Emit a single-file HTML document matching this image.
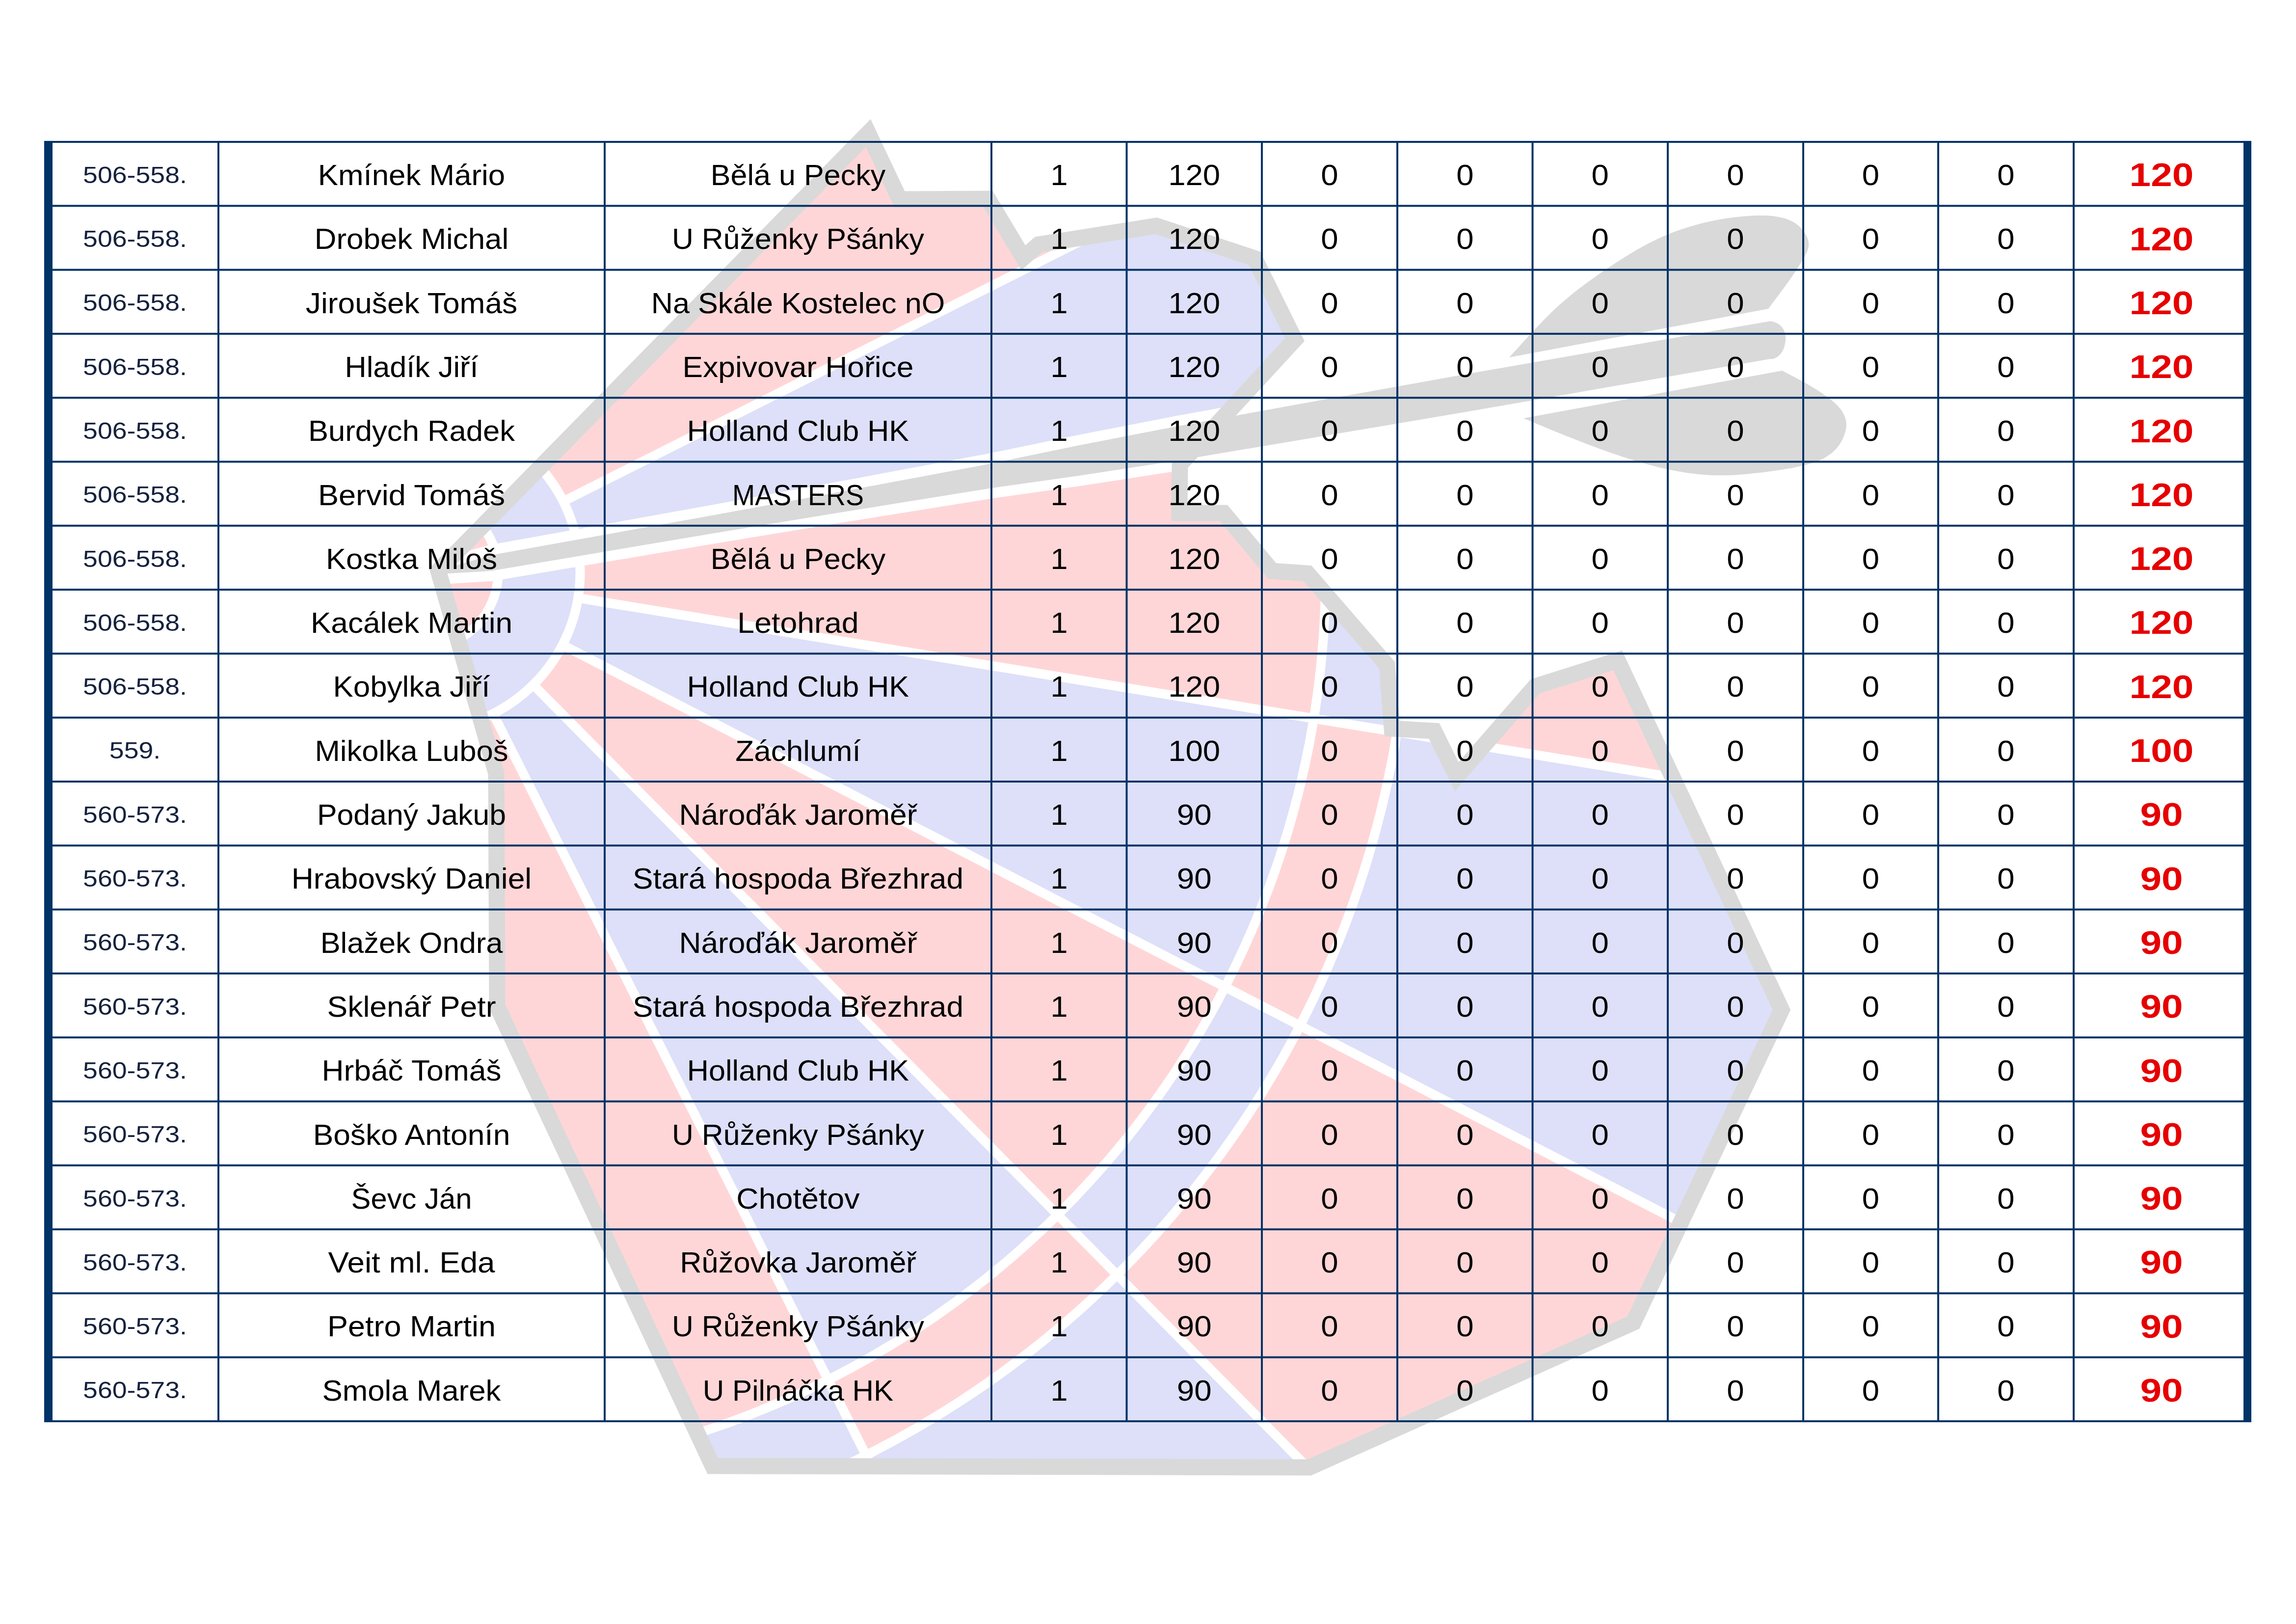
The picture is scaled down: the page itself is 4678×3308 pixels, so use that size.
<!DOCTYPE html><html><head><meta charset="utf-8"><style>html,body{margin:0;padding:0;background:#fff;overflow:hidden;}svg{display:block}text{font-family:"Liberation Sans",sans-serif;}</style></head><body>
<svg width="4678" height="3308" viewBox="0 0 4678 3308">
<rect width="4678" height="3308" fill="#fff"/>
<g><defs><clipPath id="cp"><polygon points="1769,271 1833,406 2013,405 2085,525 2116,498 2356,460 2556,526 2638,692 2404,946 2403,1045 2493,1045 2592,1163 2664,1168 2826,1355 2836,1484 2922,1489 2968,1582 3128,1398 3296,1345 3630,2057 3328,2694 2668,2989 1452,2986 1013,2050 1011,1575 893,1163"/></clipPath></defs><g clip-path="url(#cp)"><g transform="rotate(0.3,860,1166)"><path d="M860.0,1166.0L4020.6,665.4A3200,3200 0 0 1 4020.6,1666.6L860.0,1166.0Z" fill="#ffd6d7"/><path d="M2678.3,878.0L2848.2,851.1A2013,2013 0 0 1 2848.2,1480.9L2678.3,1454.0A1841,1841 0 0 0 2678.3,878.0Z" fill="#dde0f8"/><path d="M860.0,1166.0L4020.6,1666.6A3200,3200 0 0 1 3711.2,2618.8L860.0,1166.0Z" fill="#dde0f8"/><path d="M2678.3,1454.0L2848.2,1480.9A2013,2013 0 0 1 2653.6,2079.9L2500.3,2001.8A1841,1841 0 0 0 2678.3,1454.0Z" fill="#ffd6d7"/><path d="M860.0,1166.0L3711.2,2618.8A3200,3200 0 0 1 3122.7,3428.7L860.0,1166.0Z" fill="#ffd6d7"/><path d="M2500.3,2001.8L2653.6,2079.9A2013,2013 0 0 1 2283.4,2589.4L2161.8,2467.8A1841,1841 0 0 0 2500.3,2001.8Z" fill="#dde0f8"/><path d="M860.0,1166.0L3122.7,3428.7A3200,3200 0 0 1 2312.8,4017.2L860.0,1166.0Z" fill="#dde0f8"/><path d="M2161.8,2467.8L2283.4,2589.4A2013,2013 0 0 1 1773.9,2959.6L1695.8,2806.3A1841,1841 0 0 0 2161.8,2467.8Z" fill="#ffd6d7"/><path d="M860.0,1166.0L2312.8,4017.2A3200,3200 0 0 1 1360.6,4326.6L860.0,1166.0Z" fill="#ffd6d7"/><path d="M1695.8,2806.3L1773.9,2959.6A2013,2013 0 0 1 1174.9,3154.2L1148.0,2984.3A1841,1841 0 0 0 1695.8,2806.3Z" fill="#dde0f8"/><path d="M860.0,1166.0L1360.6,4326.6A3200,3200 0 0 1 359.4,4326.6L860.0,1166.0Z" fill="#dde0f8"/><path d="M1148.0,2984.3L1174.9,3154.2A2013,2013 0 0 1 545.1,3154.2L572.0,2984.3A1841,1841 0 0 0 1148.0,2984.3Z" fill="#ffd6d7"/><path d="M860.0,1166.0L359.4,4326.6A3200,3200 0 0 1 -592.8,4017.2L860.0,1166.0Z" fill="#ffd6d7"/><path d="M572.0,2984.3L545.1,3154.2A2013,2013 0 0 1 -53.9,2959.6L24.2,2806.3A1841,1841 0 0 0 572.0,2984.3Z" fill="#dde0f8"/><path d="M860.0,1166.0L-592.8,4017.2A3200,3200 0 0 1 -1402.7,3428.7L860.0,1166.0Z" fill="#dde0f8"/><path d="M24.2,2806.3L-53.9,2959.6A2013,2013 0 0 1 -563.4,2589.4L-441.8,2467.8A1841,1841 0 0 0 24.2,2806.3Z" fill="#ffd6d7"/><path d="M860.0,1166.0L-1402.7,3428.7A3200,3200 0 0 1 -1991.2,2618.8L860.0,1166.0Z" fill="#ffd6d7"/><path d="M-441.8,2467.8L-563.4,2589.4A2013,2013 0 0 1 -933.6,2079.9L-780.3,2001.8A1841,1841 0 0 0 -441.8,2467.8Z" fill="#dde0f8"/><path d="M860.0,1166.0L-1991.2,2618.8A3200,3200 0 0 1 -2300.6,1666.6L860.0,1166.0Z" fill="#dde0f8"/><path d="M-780.3,2001.8L-933.6,2079.9A2013,2013 0 0 1 -1128.2,1480.9L-958.3,1454.0A1841,1841 0 0 0 -780.3,2001.8Z" fill="#ffd6d7"/><path d="M860.0,1166.0L-2300.6,1666.6A3200,3200 0 0 1 -2300.6,665.4L860.0,1166.0Z" fill="#ffd6d7"/><path d="M-958.3,1454.0L-1128.2,1480.9A2013,2013 0 0 1 -1128.2,851.1L-958.3,878.0A1841,1841 0 0 0 -958.3,1454.0Z" fill="#dde0f8"/><path d="M860.0,1166.0L-2300.6,665.4A3200,3200 0 0 1 -1991.2,-286.8L860.0,1166.0Z" fill="#dde0f8"/><path d="M-958.3,878.0L-1128.2,851.1A2013,2013 0 0 1 -933.6,252.1L-780.3,330.2A1841,1841 0 0 0 -958.3,878.0Z" fill="#ffd6d7"/><path d="M860.0,1166.0L-1991.2,-286.8A3200,3200 0 0 1 -1402.7,-1096.7L860.0,1166.0Z" fill="#ffd6d7"/><path d="M-780.3,330.2L-933.6,252.1A2013,2013 0 0 1 -563.4,-257.4L-441.8,-135.8A1841,1841 0 0 0 -780.3,330.2Z" fill="#dde0f8"/><path d="M860.0,1166.0L-1402.7,-1096.7A3200,3200 0 0 1 -592.8,-1685.2L860.0,1166.0Z" fill="#dde0f8"/><path d="M-441.8,-135.8L-563.4,-257.4A2013,2013 0 0 1 -53.9,-627.6L24.2,-474.3A1841,1841 0 0 0 -441.8,-135.8Z" fill="#ffd6d7"/><path d="M860.0,1166.0L-592.8,-1685.2A3200,3200 0 0 1 359.4,-1994.6L860.0,1166.0Z" fill="#ffd6d7"/><path d="M24.2,-474.3L-53.9,-627.6A2013,2013 0 0 1 545.1,-822.2L572.0,-652.3A1841,1841 0 0 0 24.2,-474.3Z" fill="#dde0f8"/><path d="M860.0,1166.0L359.4,-1994.6A3200,3200 0 0 1 1360.6,-1994.6L860.0,1166.0Z" fill="#dde0f8"/><path d="M572.0,-652.3L545.1,-822.2A2013,2013 0 0 1 1174.9,-822.2L1148.0,-652.3A1841,1841 0 0 0 572.0,-652.3Z" fill="#ffd6d7"/><path d="M860.0,1166.0L1360.6,-1994.6A3200,3200 0 0 1 2312.8,-1685.2L860.0,1166.0Z" fill="#ffd6d7"/><path d="M1148.0,-652.3L1174.9,-822.2A2013,2013 0 0 1 1773.9,-627.6L1695.8,-474.3A1841,1841 0 0 0 1148.0,-652.3Z" fill="#dde0f8"/><path d="M860.0,1166.0L2312.8,-1685.2A3200,3200 0 0 1 3122.7,-1096.7L860.0,1166.0Z" fill="#dde0f8"/><path d="M1695.8,-474.3L1773.9,-627.6A2013,2013 0 0 1 2283.4,-257.4L2161.8,-135.8A1841,1841 0 0 0 1695.8,-474.3Z" fill="#ffd6d7"/><path d="M860.0,1166.0L3122.7,-1096.7A3200,3200 0 0 1 3711.2,-286.8L860.0,1166.0Z" fill="#ffd6d7"/><path d="M2161.8,-135.8L2283.4,-257.4A2013,2013 0 0 1 2653.6,252.1L2500.3,330.2A1841,1841 0 0 0 2161.8,-135.8Z" fill="#dde0f8"/><path d="M860.0,1166.0L3711.2,-286.8A3200,3200 0 0 1 4020.6,665.4L860.0,1166.0Z" fill="#dde0f8"/><path d="M2500.3,330.2L2653.6,252.1A2013,2013 0 0 1 2848.2,851.1L2678.3,878.0A1841,1841 0 0 0 2500.3,330.2Z" fill="#ffd6d7"/><circle cx="860" cy="1166" r="322" fill="#dde0f8"/><circle cx="860" cy="1166" r="155" fill="#ffd6d7"/><path d="M1178.0,1115.6L4020.6,665.4M1178.0,1216.4L4020.6,1666.6M1146.9,1312.2L3711.2,2618.8M1087.7,1393.7L3122.7,3428.7M1006.2,1452.9L2312.8,4017.2M910.4,1484.0L1360.6,4326.6M809.6,1484.0L359.4,4326.6M713.8,1452.9L-592.8,4017.2M632.3,1393.7L-1402.7,3428.7M573.1,1312.2L-1991.2,2618.8M542.0,1216.4L-2300.6,1666.6M542.0,1115.6L-2300.6,665.4M573.1,1019.8L-1991.2,-286.8M632.3,938.3L-1402.7,-1096.7M713.8,879.1L-592.8,-1685.2M809.6,848.0L359.4,-1994.6M910.4,848.0L1360.6,-1994.6M1006.2,879.1L2312.8,-1685.2M1087.7,938.3L3122.7,-1096.7M1146.9,1019.8L3711.2,-286.8" stroke="#fff" stroke-width="19" fill="none"/><circle cx="860" cy="1166" r="1841" stroke="#fff" stroke-width="19" fill="none"/><circle cx="860" cy="1166" r="2013" stroke="#fff" stroke-width="19" fill="none"/><circle cx="860" cy="1166" r="322" stroke="#fff" stroke-width="19" fill="none"/><circle cx="860" cy="1166" r="155" stroke="#fff" stroke-width="19" fill="none"/></g><path d="M886.0,1163.8 L1000.0,1130.9 L1450.0,1050.0 L1711.0,1002.0 L2017.0,944.7 L2200.0,906.8 L2400.0,867.9 L2700.0,813.6 L3000.0,759.8 L3606.0,654.2 C3628,656.2 3640,672.7 3638,692.7 C3636,714.7 3626,727.2 3612,731.2 L3606.0,731.2 L3000.0,836.8 L2700.0,887.6 L2400.0,937.9 L2200.0,968.8 L2017.0,994.7 L1711.0,1044.0 L1450.0,1087.0 L1000.0,1162.9 L886.0,1169.8Z" fill="#fff" stroke="#fff" stroke-width="42" stroke-linejoin="round"/></g><polygon points="1769,271 1833,406 2013,405 2085,525 2116,498 2356,460 2556,526 2638,692 2404,946 2403,1045 2493,1045 2592,1163 2664,1168 2826,1355 2836,1484 2922,1489 2968,1582 3128,1398 3296,1345 3630,2057 3328,2694 2668,2989 1452,2986 1013,2050 1011,1575 893,1163" fill="none" stroke="#d9d9d9" stroke-width="33" stroke-linejoin="miter" stroke-miterlimit="10"/><path d="M886.0,1163.8 L1000.0,1130.9 L1450.0,1050.0 L1711.0,1002.0 L2017.0,944.7 L2200.0,906.8 L2400.0,867.9 L2700.0,813.6 L3000.0,759.8 L3606.0,654.2 C3628,656.2 3640,672.7 3638,692.7 C3636,714.7 3626,727.2 3612,731.2 L3606.0,731.2 L3000.0,836.8 L2700.0,887.6 L2400.0,937.9 L2200.0,968.8 L2017.0,994.7 L1711.0,1044.0 L1450.0,1087.0 L1000.0,1162.9 L886.0,1169.8Z" fill="#d9d9d9"/><path d="M3075,728 L3603,629 C3612.8,615.3 3648.3,569.3 3662.0,547.0C3675.7,524.7 3686.2,510.7 3685.0,495.0C3683.8,479.3 3670.5,462.3 3655.0,453.0C3639.5,443.7 3619.8,439.5 3592.0,439.0C3564.2,438.5 3522.8,442.5 3488.0,450.0C3453.2,457.5 3417.8,468.3 3383.0,484.0C3348.2,499.7 3313.8,520.7 3279.0,544.0C3244.2,567.3 3208.0,593.3 3174.0,624.0C3140.0,654.7 3091.5,710.7 3075.0,728.0Z" fill="#d9d9d9"/><path d="M3104,852 L3631,755 C3642.0,761.0 3677.3,778.2 3697.0,791.0C3716.7,803.8 3738.3,818.2 3749.0,832.0C3759.7,845.8 3763.8,858.8 3761.0,874.0C3758.2,889.2 3748.5,910.2 3732.0,923.0C3715.5,935.8 3696.8,943.5 3662.0,951.0C3627.2,958.5 3563.7,966.5 3523.0,968.0C3482.3,969.5 3452.8,965.8 3418.0,960.0C3383.2,954.2 3348.8,943.8 3314.0,933.0C3279.2,922.2 3244.0,908.5 3209.0,895.0C3174.0,881.5 3121.5,859.2 3104.0,852.0Z" fill="#d9d9d9"/></g>
<g fill="#003366"><rect x="90" y="287.0" width="4497" height="4"/><rect x="90" y="417.3" width="4497" height="4"/><rect x="90" y="547.6" width="4497" height="4"/><rect x="90" y="677.9" width="4497" height="4"/><rect x="90" y="808.2" width="4497" height="4"/><rect x="90" y="938.5" width="4497" height="4"/><rect x="90" y="1068.8" width="4497" height="4"/><rect x="90" y="1199.1" width="4497" height="4"/><rect x="90" y="1329.4" width="4497" height="4"/><rect x="90" y="1459.7" width="4497" height="4"/><rect x="90" y="1590.0" width="4497" height="4"/><rect x="90" y="1720.3" width="4497" height="4"/><rect x="90" y="1850.6" width="4497" height="4"/><rect x="90" y="1980.9" width="4497" height="4"/><rect x="90" y="2111.2" width="4497" height="4"/><rect x="90" y="2241.5" width="4497" height="4"/><rect x="90" y="2371.8" width="4497" height="4"/><rect x="90" y="2502.1" width="4497" height="4"/><rect x="90" y="2632.4" width="4497" height="4"/><rect x="90" y="2762.7" width="4497" height="4"/><rect x="90" y="2893.0" width="4497" height="4"/><rect x="443" y="287" width="4" height="2610.0"/><rect x="1230" y="287" width="4" height="2610.0"/><rect x="2018" y="287" width="4" height="2610.0"/><rect x="2293.5" y="287" width="4" height="2610.0"/><rect x="2569" y="287" width="4" height="2610.0"/><rect x="2845" y="287" width="4" height="2610.0"/><rect x="3120.5" y="287" width="4" height="2610.0"/><rect x="3396" y="287" width="4" height="2610.0"/><rect x="3672" y="287" width="4" height="2610.0"/><rect x="3947" y="287" width="4" height="2610.0"/><rect x="4223" y="287" width="4" height="2610.0"/><rect x="90" y="287" width="17" height="2610.0"/><rect x="4571" y="287" width="16" height="2610.0"/></g>
<g><text x="275.0" y="372.7" font-size="48.4" fill="#14213d" text-anchor="middle" textLength="211.8" lengthAdjust="spacingAndGlyphs">506-558.</text><text x="838.5" y="377.0" font-size="60.0" fill="#000" text-anchor="middle" textLength="381.4" lengthAdjust="spacingAndGlyphs">Kmínek Mário</text><text x="1626.0" y="377.0" font-size="60.0" fill="#000" text-anchor="middle" textLength="356.5" lengthAdjust="spacingAndGlyphs">Bělá u Pecky</text><text x="2157.8" y="377.0" font-size="60.0" fill="#000" text-anchor="middle" textLength="35.3" lengthAdjust="spacingAndGlyphs">1</text><text x="2433.2" y="377.0" font-size="60.0" fill="#000" text-anchor="middle" textLength="106.0" lengthAdjust="spacingAndGlyphs">120</text><text x="2709.0" y="377.0" font-size="60.0" fill="#000" text-anchor="middle" textLength="35.3" lengthAdjust="spacingAndGlyphs">0</text><text x="2984.8" y="377.0" font-size="60.0" fill="#000" text-anchor="middle" textLength="35.3" lengthAdjust="spacingAndGlyphs">0</text><text x="3260.2" y="377.0" font-size="60.0" fill="#000" text-anchor="middle" textLength="35.3" lengthAdjust="spacingAndGlyphs">0</text><text x="3536.0" y="377.0" font-size="60.0" fill="#000" text-anchor="middle" textLength="35.3" lengthAdjust="spacingAndGlyphs">0</text><text x="3811.5" y="377.0" font-size="60.0" fill="#000" text-anchor="middle" textLength="35.3" lengthAdjust="spacingAndGlyphs">0</text><text x="4087.0" y="377.0" font-size="60.0" fill="#000" text-anchor="middle" textLength="35.3" lengthAdjust="spacingAndGlyphs">0</text><text x="4404.0" y="379.3" font-size="66.7" font-weight="bold" fill="#e60000" text-anchor="middle" textLength="130.8" lengthAdjust="spacingAndGlyphs">120</text><text x="275.0" y="503.0" font-size="48.4" fill="#14213d" text-anchor="middle" textLength="211.8" lengthAdjust="spacingAndGlyphs">506-558.</text><text x="838.5" y="507.3" font-size="60.0" fill="#000" text-anchor="middle" textLength="395.4" lengthAdjust="spacingAndGlyphs">Drobek Michal</text><text x="1626.0" y="507.3" font-size="60.0" fill="#000" text-anchor="middle" textLength="514.0" lengthAdjust="spacingAndGlyphs">U Růženky Pšánky</text><text x="2157.8" y="507.3" font-size="60.0" fill="#000" text-anchor="middle" textLength="35.3" lengthAdjust="spacingAndGlyphs">1</text><text x="2433.2" y="507.3" font-size="60.0" fill="#000" text-anchor="middle" textLength="106.0" lengthAdjust="spacingAndGlyphs">120</text><text x="2709.0" y="507.3" font-size="60.0" fill="#000" text-anchor="middle" textLength="35.3" lengthAdjust="spacingAndGlyphs">0</text><text x="2984.8" y="507.3" font-size="60.0" fill="#000" text-anchor="middle" textLength="35.3" lengthAdjust="spacingAndGlyphs">0</text><text x="3260.2" y="507.3" font-size="60.0" fill="#000" text-anchor="middle" textLength="35.3" lengthAdjust="spacingAndGlyphs">0</text><text x="3536.0" y="507.3" font-size="60.0" fill="#000" text-anchor="middle" textLength="35.3" lengthAdjust="spacingAndGlyphs">0</text><text x="3811.5" y="507.3" font-size="60.0" fill="#000" text-anchor="middle" textLength="35.3" lengthAdjust="spacingAndGlyphs">0</text><text x="4087.0" y="507.3" font-size="60.0" fill="#000" text-anchor="middle" textLength="35.3" lengthAdjust="spacingAndGlyphs">0</text><text x="4404.0" y="509.6" font-size="66.7" font-weight="bold" fill="#e60000" text-anchor="middle" textLength="130.8" lengthAdjust="spacingAndGlyphs">120</text><text x="275.0" y="633.3" font-size="48.4" fill="#14213d" text-anchor="middle" textLength="211.8" lengthAdjust="spacingAndGlyphs">506-558.</text><text x="838.5" y="637.6" font-size="60.0" fill="#000" text-anchor="middle" textLength="431.3" lengthAdjust="spacingAndGlyphs">Jiroušek Tomáš</text><text x="1626.0" y="637.6" font-size="60.0" fill="#000" text-anchor="middle" textLength="598.5" lengthAdjust="spacingAndGlyphs">Na Skále Kostelec nO</text><text x="2157.8" y="637.6" font-size="60.0" fill="#000" text-anchor="middle" textLength="35.3" lengthAdjust="spacingAndGlyphs">1</text><text x="2433.2" y="637.6" font-size="60.0" fill="#000" text-anchor="middle" textLength="106.0" lengthAdjust="spacingAndGlyphs">120</text><text x="2709.0" y="637.6" font-size="60.0" fill="#000" text-anchor="middle" textLength="35.3" lengthAdjust="spacingAndGlyphs">0</text><text x="2984.8" y="637.6" font-size="60.0" fill="#000" text-anchor="middle" textLength="35.3" lengthAdjust="spacingAndGlyphs">0</text><text x="3260.2" y="637.6" font-size="60.0" fill="#000" text-anchor="middle" textLength="35.3" lengthAdjust="spacingAndGlyphs">0</text><text x="3536.0" y="637.6" font-size="60.0" fill="#000" text-anchor="middle" textLength="35.3" lengthAdjust="spacingAndGlyphs">0</text><text x="3811.5" y="637.6" font-size="60.0" fill="#000" text-anchor="middle" textLength="35.3" lengthAdjust="spacingAndGlyphs">0</text><text x="4087.0" y="637.6" font-size="60.0" fill="#000" text-anchor="middle" textLength="35.3" lengthAdjust="spacingAndGlyphs">0</text><text x="4404.0" y="639.9" font-size="66.7" font-weight="bold" fill="#e60000" text-anchor="middle" textLength="130.8" lengthAdjust="spacingAndGlyphs">120</text><text x="275.0" y="763.6" font-size="48.4" fill="#14213d" text-anchor="middle" textLength="211.8" lengthAdjust="spacingAndGlyphs">506-558.</text><text x="838.5" y="767.9" font-size="60.0" fill="#000" text-anchor="middle" textLength="272.0" lengthAdjust="spacingAndGlyphs">Hladík Jiří</text><text x="1626.0" y="767.9" font-size="60.0" fill="#000" text-anchor="middle" textLength="470.8" lengthAdjust="spacingAndGlyphs">Expivovar Hořice</text><text x="2157.8" y="767.9" font-size="60.0" fill="#000" text-anchor="middle" textLength="35.3" lengthAdjust="spacingAndGlyphs">1</text><text x="2433.2" y="767.9" font-size="60.0" fill="#000" text-anchor="middle" textLength="106.0" lengthAdjust="spacingAndGlyphs">120</text><text x="2709.0" y="767.9" font-size="60.0" fill="#000" text-anchor="middle" textLength="35.3" lengthAdjust="spacingAndGlyphs">0</text><text x="2984.8" y="767.9" font-size="60.0" fill="#000" text-anchor="middle" textLength="35.3" lengthAdjust="spacingAndGlyphs">0</text><text x="3260.2" y="767.9" font-size="60.0" fill="#000" text-anchor="middle" textLength="35.3" lengthAdjust="spacingAndGlyphs">0</text><text x="3536.0" y="767.9" font-size="60.0" fill="#000" text-anchor="middle" textLength="35.3" lengthAdjust="spacingAndGlyphs">0</text><text x="3811.5" y="767.9" font-size="60.0" fill="#000" text-anchor="middle" textLength="35.3" lengthAdjust="spacingAndGlyphs">0</text><text x="4087.0" y="767.9" font-size="60.0" fill="#000" text-anchor="middle" textLength="35.3" lengthAdjust="spacingAndGlyphs">0</text><text x="4404.0" y="770.2" font-size="66.7" font-weight="bold" fill="#e60000" text-anchor="middle" textLength="130.8" lengthAdjust="spacingAndGlyphs">120</text><text x="275.0" y="893.9" font-size="48.4" fill="#14213d" text-anchor="middle" textLength="211.8" lengthAdjust="spacingAndGlyphs">506-558.</text><text x="838.5" y="898.2" font-size="60.0" fill="#000" text-anchor="middle" textLength="421.0" lengthAdjust="spacingAndGlyphs">Burdych Radek</text><text x="1626.0" y="898.2" font-size="60.0" fill="#000" text-anchor="middle" textLength="452.4" lengthAdjust="spacingAndGlyphs">Holland Club HK</text><text x="2157.8" y="898.2" font-size="60.0" fill="#000" text-anchor="middle" textLength="35.3" lengthAdjust="spacingAndGlyphs">1</text><text x="2433.2" y="898.2" font-size="60.0" fill="#000" text-anchor="middle" textLength="106.0" lengthAdjust="spacingAndGlyphs">120</text><text x="2709.0" y="898.2" font-size="60.0" fill="#000" text-anchor="middle" textLength="35.3" lengthAdjust="spacingAndGlyphs">0</text><text x="2984.8" y="898.2" font-size="60.0" fill="#000" text-anchor="middle" textLength="35.3" lengthAdjust="spacingAndGlyphs">0</text><text x="3260.2" y="898.2" font-size="60.0" fill="#000" text-anchor="middle" textLength="35.3" lengthAdjust="spacingAndGlyphs">0</text><text x="3536.0" y="898.2" font-size="60.0" fill="#000" text-anchor="middle" textLength="35.3" lengthAdjust="spacingAndGlyphs">0</text><text x="3811.5" y="898.2" font-size="60.0" fill="#000" text-anchor="middle" textLength="35.3" lengthAdjust="spacingAndGlyphs">0</text><text x="4087.0" y="898.2" font-size="60.0" fill="#000" text-anchor="middle" textLength="35.3" lengthAdjust="spacingAndGlyphs">0</text><text x="4404.0" y="900.5" font-size="66.7" font-weight="bold" fill="#e60000" text-anchor="middle" textLength="130.8" lengthAdjust="spacingAndGlyphs">120</text><text x="275.0" y="1024.2" font-size="48.4" fill="#14213d" text-anchor="middle" textLength="211.8" lengthAdjust="spacingAndGlyphs">506-558.</text><text x="838.5" y="1028.5" font-size="60.0" fill="#000" text-anchor="middle" textLength="381.2" lengthAdjust="spacingAndGlyphs">Bervid Tomáš</text><text x="1626.0" y="1028.5" font-size="60.0" fill="#000" text-anchor="middle" textLength="268.1" lengthAdjust="spacingAndGlyphs">MASTERS</text><text x="2157.8" y="1028.5" font-size="60.0" fill="#000" text-anchor="middle" textLength="35.3" lengthAdjust="spacingAndGlyphs">1</text><text x="2433.2" y="1028.5" font-size="60.0" fill="#000" text-anchor="middle" textLength="106.0" lengthAdjust="spacingAndGlyphs">120</text><text x="2709.0" y="1028.5" font-size="60.0" fill="#000" text-anchor="middle" textLength="35.3" lengthAdjust="spacingAndGlyphs">0</text><text x="2984.8" y="1028.5" font-size="60.0" fill="#000" text-anchor="middle" textLength="35.3" lengthAdjust="spacingAndGlyphs">0</text><text x="3260.2" y="1028.5" font-size="60.0" fill="#000" text-anchor="middle" textLength="35.3" lengthAdjust="spacingAndGlyphs">0</text><text x="3536.0" y="1028.5" font-size="60.0" fill="#000" text-anchor="middle" textLength="35.3" lengthAdjust="spacingAndGlyphs">0</text><text x="3811.5" y="1028.5" font-size="60.0" fill="#000" text-anchor="middle" textLength="35.3" lengthAdjust="spacingAndGlyphs">0</text><text x="4087.0" y="1028.5" font-size="60.0" fill="#000" text-anchor="middle" textLength="35.3" lengthAdjust="spacingAndGlyphs">0</text><text x="4404.0" y="1030.8" font-size="66.7" font-weight="bold" fill="#e60000" text-anchor="middle" textLength="130.8" lengthAdjust="spacingAndGlyphs">120</text><text x="275.0" y="1154.5" font-size="48.4" fill="#14213d" text-anchor="middle" textLength="211.8" lengthAdjust="spacingAndGlyphs">506-558.</text><text x="838.5" y="1158.8" font-size="60.0" fill="#000" text-anchor="middle" textLength="348.9" lengthAdjust="spacingAndGlyphs">Kostka Miloš</text><text x="1626.0" y="1158.8" font-size="60.0" fill="#000" text-anchor="middle" textLength="356.5" lengthAdjust="spacingAndGlyphs">Bělá u Pecky</text><text x="2157.8" y="1158.8" font-size="60.0" fill="#000" text-anchor="middle" textLength="35.3" lengthAdjust="spacingAndGlyphs">1</text><text x="2433.2" y="1158.8" font-size="60.0" fill="#000" text-anchor="middle" textLength="106.0" lengthAdjust="spacingAndGlyphs">120</text><text x="2709.0" y="1158.8" font-size="60.0" fill="#000" text-anchor="middle" textLength="35.3" lengthAdjust="spacingAndGlyphs">0</text><text x="2984.8" y="1158.8" font-size="60.0" fill="#000" text-anchor="middle" textLength="35.3" lengthAdjust="spacingAndGlyphs">0</text><text x="3260.2" y="1158.8" font-size="60.0" fill="#000" text-anchor="middle" textLength="35.3" lengthAdjust="spacingAndGlyphs">0</text><text x="3536.0" y="1158.8" font-size="60.0" fill="#000" text-anchor="middle" textLength="35.3" lengthAdjust="spacingAndGlyphs">0</text><text x="3811.5" y="1158.8" font-size="60.0" fill="#000" text-anchor="middle" textLength="35.3" lengthAdjust="spacingAndGlyphs">0</text><text x="4087.0" y="1158.8" font-size="60.0" fill="#000" text-anchor="middle" textLength="35.3" lengthAdjust="spacingAndGlyphs">0</text><text x="4404.0" y="1161.1" font-size="66.7" font-weight="bold" fill="#e60000" text-anchor="middle" textLength="130.8" lengthAdjust="spacingAndGlyphs">120</text><text x="275.0" y="1284.8" font-size="48.4" fill="#14213d" text-anchor="middle" textLength="211.8" lengthAdjust="spacingAndGlyphs">506-558.</text><text x="838.5" y="1289.1" font-size="60.0" fill="#000" text-anchor="middle" textLength="411.2" lengthAdjust="spacingAndGlyphs">Kacálek Martin</text><text x="1626.0" y="1289.1" font-size="60.0" fill="#000" text-anchor="middle" textLength="247.3" lengthAdjust="spacingAndGlyphs">Letohrad</text><text x="2157.8" y="1289.1" font-size="60.0" fill="#000" text-anchor="middle" textLength="35.3" lengthAdjust="spacingAndGlyphs">1</text><text x="2433.2" y="1289.1" font-size="60.0" fill="#000" text-anchor="middle" textLength="106.0" lengthAdjust="spacingAndGlyphs">120</text><text x="2709.0" y="1289.1" font-size="60.0" fill="#000" text-anchor="middle" textLength="35.3" lengthAdjust="spacingAndGlyphs">0</text><text x="2984.8" y="1289.1" font-size="60.0" fill="#000" text-anchor="middle" textLength="35.3" lengthAdjust="spacingAndGlyphs">0</text><text x="3260.2" y="1289.1" font-size="60.0" fill="#000" text-anchor="middle" textLength="35.3" lengthAdjust="spacingAndGlyphs">0</text><text x="3536.0" y="1289.1" font-size="60.0" fill="#000" text-anchor="middle" textLength="35.3" lengthAdjust="spacingAndGlyphs">0</text><text x="3811.5" y="1289.1" font-size="60.0" fill="#000" text-anchor="middle" textLength="35.3" lengthAdjust="spacingAndGlyphs">0</text><text x="4087.0" y="1289.1" font-size="60.0" fill="#000" text-anchor="middle" textLength="35.3" lengthAdjust="spacingAndGlyphs">0</text><text x="4404.0" y="1291.4" font-size="66.7" font-weight="bold" fill="#e60000" text-anchor="middle" textLength="130.8" lengthAdjust="spacingAndGlyphs">120</text><text x="275.0" y="1415.1" font-size="48.4" fill="#14213d" text-anchor="middle" textLength="211.8" lengthAdjust="spacingAndGlyphs">506-558.</text><text x="838.5" y="1419.4" font-size="60.0" fill="#000" text-anchor="middle" textLength="319.9" lengthAdjust="spacingAndGlyphs">Kobylka Jiří</text><text x="1626.0" y="1419.4" font-size="60.0" fill="#000" text-anchor="middle" textLength="452.4" lengthAdjust="spacingAndGlyphs">Holland Club HK</text><text x="2157.8" y="1419.4" font-size="60.0" fill="#000" text-anchor="middle" textLength="35.3" lengthAdjust="spacingAndGlyphs">1</text><text x="2433.2" y="1419.4" font-size="60.0" fill="#000" text-anchor="middle" textLength="106.0" lengthAdjust="spacingAndGlyphs">120</text><text x="2709.0" y="1419.4" font-size="60.0" fill="#000" text-anchor="middle" textLength="35.3" lengthAdjust="spacingAndGlyphs">0</text><text x="2984.8" y="1419.4" font-size="60.0" fill="#000" text-anchor="middle" textLength="35.3" lengthAdjust="spacingAndGlyphs">0</text><text x="3260.2" y="1419.4" font-size="60.0" fill="#000" text-anchor="middle" textLength="35.3" lengthAdjust="spacingAndGlyphs">0</text><text x="3536.0" y="1419.4" font-size="60.0" fill="#000" text-anchor="middle" textLength="35.3" lengthAdjust="spacingAndGlyphs">0</text><text x="3811.5" y="1419.4" font-size="60.0" fill="#000" text-anchor="middle" textLength="35.3" lengthAdjust="spacingAndGlyphs">0</text><text x="4087.0" y="1419.4" font-size="60.0" fill="#000" text-anchor="middle" textLength="35.3" lengthAdjust="spacingAndGlyphs">0</text><text x="4404.0" y="1421.7" font-size="66.7" font-weight="bold" fill="#e60000" text-anchor="middle" textLength="130.8" lengthAdjust="spacingAndGlyphs">120</text><text x="275.0" y="1545.4" font-size="48.4" fill="#14213d" text-anchor="middle" textLength="104.4" lengthAdjust="spacingAndGlyphs">559.</text><text x="838.5" y="1549.7" font-size="60.0" fill="#000" text-anchor="middle" textLength="394.1" lengthAdjust="spacingAndGlyphs">Mikolka Luboš</text><text x="1626.0" y="1549.7" font-size="60.0" fill="#000" text-anchor="middle" textLength="255.3" lengthAdjust="spacingAndGlyphs">Záchlumí</text><text x="2157.8" y="1549.7" font-size="60.0" fill="#000" text-anchor="middle" textLength="35.3" lengthAdjust="spacingAndGlyphs">1</text><text x="2433.2" y="1549.7" font-size="60.0" fill="#000" text-anchor="middle" textLength="106.0" lengthAdjust="spacingAndGlyphs">100</text><text x="2709.0" y="1549.7" font-size="60.0" fill="#000" text-anchor="middle" textLength="35.3" lengthAdjust="spacingAndGlyphs">0</text><text x="2984.8" y="1549.7" font-size="60.0" fill="#000" text-anchor="middle" textLength="35.3" lengthAdjust="spacingAndGlyphs">0</text><text x="3260.2" y="1549.7" font-size="60.0" fill="#000" text-anchor="middle" textLength="35.3" lengthAdjust="spacingAndGlyphs">0</text><text x="3536.0" y="1549.7" font-size="60.0" fill="#000" text-anchor="middle" textLength="35.3" lengthAdjust="spacingAndGlyphs">0</text><text x="3811.5" y="1549.7" font-size="60.0" fill="#000" text-anchor="middle" textLength="35.3" lengthAdjust="spacingAndGlyphs">0</text><text x="4087.0" y="1549.7" font-size="60.0" fill="#000" text-anchor="middle" textLength="35.3" lengthAdjust="spacingAndGlyphs">0</text><text x="4404.0" y="1552.0" font-size="66.7" font-weight="bold" fill="#e60000" text-anchor="middle" textLength="130.8" lengthAdjust="spacingAndGlyphs">100</text><text x="275.0" y="1675.7" font-size="48.4" fill="#14213d" text-anchor="middle" textLength="211.8" lengthAdjust="spacingAndGlyphs">560-573.</text><text x="838.5" y="1680.0" font-size="60.0" fill="#000" text-anchor="middle" textLength="384.9" lengthAdjust="spacingAndGlyphs">Podaný Jakub</text><text x="1626.0" y="1680.0" font-size="60.0" fill="#000" text-anchor="middle" textLength="485.1" lengthAdjust="spacingAndGlyphs">Nároďák Jaroměř</text><text x="2157.8" y="1680.0" font-size="60.0" fill="#000" text-anchor="middle" textLength="35.3" lengthAdjust="spacingAndGlyphs">1</text><text x="2433.2" y="1680.0" font-size="60.0" fill="#000" text-anchor="middle" textLength="70.7" lengthAdjust="spacingAndGlyphs">90</text><text x="2709.0" y="1680.0" font-size="60.0" fill="#000" text-anchor="middle" textLength="35.3" lengthAdjust="spacingAndGlyphs">0</text><text x="2984.8" y="1680.0" font-size="60.0" fill="#000" text-anchor="middle" textLength="35.3" lengthAdjust="spacingAndGlyphs">0</text><text x="3260.2" y="1680.0" font-size="60.0" fill="#000" text-anchor="middle" textLength="35.3" lengthAdjust="spacingAndGlyphs">0</text><text x="3536.0" y="1680.0" font-size="60.0" fill="#000" text-anchor="middle" textLength="35.3" lengthAdjust="spacingAndGlyphs">0</text><text x="3811.5" y="1680.0" font-size="60.0" fill="#000" text-anchor="middle" textLength="35.3" lengthAdjust="spacingAndGlyphs">0</text><text x="4087.0" y="1680.0" font-size="60.0" fill="#000" text-anchor="middle" textLength="35.3" lengthAdjust="spacingAndGlyphs">0</text><text x="4404.0" y="1682.3" font-size="66.7" font-weight="bold" fill="#e60000" text-anchor="middle" textLength="87.2" lengthAdjust="spacingAndGlyphs">90</text><text x="275.0" y="1806.0" font-size="48.4" fill="#14213d" text-anchor="middle" textLength="211.8" lengthAdjust="spacingAndGlyphs">560-573.</text><text x="838.5" y="1810.3" font-size="60.0" fill="#000" text-anchor="middle" textLength="489.5" lengthAdjust="spacingAndGlyphs">Hrabovský Daniel</text><text x="1626.0" y="1810.3" font-size="60.0" fill="#000" text-anchor="middle" textLength="674.0" lengthAdjust="spacingAndGlyphs">Stará hospoda Březhrad</text><text x="2157.8" y="1810.3" font-size="60.0" fill="#000" text-anchor="middle" textLength="35.3" lengthAdjust="spacingAndGlyphs">1</text><text x="2433.2" y="1810.3" font-size="60.0" fill="#000" text-anchor="middle" textLength="70.7" lengthAdjust="spacingAndGlyphs">90</text><text x="2709.0" y="1810.3" font-size="60.0" fill="#000" text-anchor="middle" textLength="35.3" lengthAdjust="spacingAndGlyphs">0</text><text x="2984.8" y="1810.3" font-size="60.0" fill="#000" text-anchor="middle" textLength="35.3" lengthAdjust="spacingAndGlyphs">0</text><text x="3260.2" y="1810.3" font-size="60.0" fill="#000" text-anchor="middle" textLength="35.3" lengthAdjust="spacingAndGlyphs">0</text><text x="3536.0" y="1810.3" font-size="60.0" fill="#000" text-anchor="middle" textLength="35.3" lengthAdjust="spacingAndGlyphs">0</text><text x="3811.5" y="1810.3" font-size="60.0" fill="#000" text-anchor="middle" textLength="35.3" lengthAdjust="spacingAndGlyphs">0</text><text x="4087.0" y="1810.3" font-size="60.0" fill="#000" text-anchor="middle" textLength="35.3" lengthAdjust="spacingAndGlyphs">0</text><text x="4404.0" y="1812.6" font-size="66.7" font-weight="bold" fill="#e60000" text-anchor="middle" textLength="87.2" lengthAdjust="spacingAndGlyphs">90</text><text x="275.0" y="1936.3" font-size="48.4" fill="#14213d" text-anchor="middle" textLength="211.8" lengthAdjust="spacingAndGlyphs">560-573.</text><text x="838.5" y="1940.6" font-size="60.0" fill="#000" text-anchor="middle" textLength="371.6" lengthAdjust="spacingAndGlyphs">Blažek Ondra</text><text x="1626.0" y="1940.6" font-size="60.0" fill="#000" text-anchor="middle" textLength="485.1" lengthAdjust="spacingAndGlyphs">Nároďák Jaroměř</text><text x="2157.8" y="1940.6" font-size="60.0" fill="#000" text-anchor="middle" textLength="35.3" lengthAdjust="spacingAndGlyphs">1</text><text x="2433.2" y="1940.6" font-size="60.0" fill="#000" text-anchor="middle" textLength="70.7" lengthAdjust="spacingAndGlyphs">90</text><text x="2709.0" y="1940.6" font-size="60.0" fill="#000" text-anchor="middle" textLength="35.3" lengthAdjust="spacingAndGlyphs">0</text><text x="2984.8" y="1940.6" font-size="60.0" fill="#000" text-anchor="middle" textLength="35.3" lengthAdjust="spacingAndGlyphs">0</text><text x="3260.2" y="1940.6" font-size="60.0" fill="#000" text-anchor="middle" textLength="35.3" lengthAdjust="spacingAndGlyphs">0</text><text x="3536.0" y="1940.6" font-size="60.0" fill="#000" text-anchor="middle" textLength="35.3" lengthAdjust="spacingAndGlyphs">0</text><text x="3811.5" y="1940.6" font-size="60.0" fill="#000" text-anchor="middle" textLength="35.3" lengthAdjust="spacingAndGlyphs">0</text><text x="4087.0" y="1940.6" font-size="60.0" fill="#000" text-anchor="middle" textLength="35.3" lengthAdjust="spacingAndGlyphs">0</text><text x="4404.0" y="1942.9" font-size="66.7" font-weight="bold" fill="#e60000" text-anchor="middle" textLength="87.2" lengthAdjust="spacingAndGlyphs">90</text><text x="275.0" y="2066.6" font-size="48.4" fill="#14213d" text-anchor="middle" textLength="211.8" lengthAdjust="spacingAndGlyphs">560-573.</text><text x="838.5" y="2070.9" font-size="60.0" fill="#000" text-anchor="middle" textLength="344.1" lengthAdjust="spacingAndGlyphs">Sklenář Petr</text><text x="1626.0" y="2070.9" font-size="60.0" fill="#000" text-anchor="middle" textLength="674.0" lengthAdjust="spacingAndGlyphs">Stará hospoda Březhrad</text><text x="2157.8" y="2070.9" font-size="60.0" fill="#000" text-anchor="middle" textLength="35.3" lengthAdjust="spacingAndGlyphs">1</text><text x="2433.2" y="2070.9" font-size="60.0" fill="#000" text-anchor="middle" textLength="70.7" lengthAdjust="spacingAndGlyphs">90</text><text x="2709.0" y="2070.9" font-size="60.0" fill="#000" text-anchor="middle" textLength="35.3" lengthAdjust="spacingAndGlyphs">0</text><text x="2984.8" y="2070.9" font-size="60.0" fill="#000" text-anchor="middle" textLength="35.3" lengthAdjust="spacingAndGlyphs">0</text><text x="3260.2" y="2070.9" font-size="60.0" fill="#000" text-anchor="middle" textLength="35.3" lengthAdjust="spacingAndGlyphs">0</text><text x="3536.0" y="2070.9" font-size="60.0" fill="#000" text-anchor="middle" textLength="35.3" lengthAdjust="spacingAndGlyphs">0</text><text x="3811.5" y="2070.9" font-size="60.0" fill="#000" text-anchor="middle" textLength="35.3" lengthAdjust="spacingAndGlyphs">0</text><text x="4087.0" y="2070.9" font-size="60.0" fill="#000" text-anchor="middle" textLength="35.3" lengthAdjust="spacingAndGlyphs">0</text><text x="4404.0" y="2073.2" font-size="66.7" font-weight="bold" fill="#e60000" text-anchor="middle" textLength="87.2" lengthAdjust="spacingAndGlyphs">90</text><text x="275.0" y="2196.9" font-size="48.4" fill="#14213d" text-anchor="middle" textLength="211.8" lengthAdjust="spacingAndGlyphs">560-573.</text><text x="838.5" y="2201.2" font-size="60.0" fill="#000" text-anchor="middle" textLength="366.0" lengthAdjust="spacingAndGlyphs">Hrbáč Tomáš</text><text x="1626.0" y="2201.2" font-size="60.0" fill="#000" text-anchor="middle" textLength="452.4" lengthAdjust="spacingAndGlyphs">Holland Club HK</text><text x="2157.8" y="2201.2" font-size="60.0" fill="#000" text-anchor="middle" textLength="35.3" lengthAdjust="spacingAndGlyphs">1</text><text x="2433.2" y="2201.2" font-size="60.0" fill="#000" text-anchor="middle" textLength="70.7" lengthAdjust="spacingAndGlyphs">90</text><text x="2709.0" y="2201.2" font-size="60.0" fill="#000" text-anchor="middle" textLength="35.3" lengthAdjust="spacingAndGlyphs">0</text><text x="2984.8" y="2201.2" font-size="60.0" fill="#000" text-anchor="middle" textLength="35.3" lengthAdjust="spacingAndGlyphs">0</text><text x="3260.2" y="2201.2" font-size="60.0" fill="#000" text-anchor="middle" textLength="35.3" lengthAdjust="spacingAndGlyphs">0</text><text x="3536.0" y="2201.2" font-size="60.0" fill="#000" text-anchor="middle" textLength="35.3" lengthAdjust="spacingAndGlyphs">0</text><text x="3811.5" y="2201.2" font-size="60.0" fill="#000" text-anchor="middle" textLength="35.3" lengthAdjust="spacingAndGlyphs">0</text><text x="4087.0" y="2201.2" font-size="60.0" fill="#000" text-anchor="middle" textLength="35.3" lengthAdjust="spacingAndGlyphs">0</text><text x="4404.0" y="2203.5" font-size="66.7" font-weight="bold" fill="#e60000" text-anchor="middle" textLength="87.2" lengthAdjust="spacingAndGlyphs">90</text><text x="275.0" y="2327.2" font-size="48.4" fill="#14213d" text-anchor="middle" textLength="211.8" lengthAdjust="spacingAndGlyphs">560-573.</text><text x="838.5" y="2331.5" font-size="60.0" fill="#000" text-anchor="middle" textLength="401.6" lengthAdjust="spacingAndGlyphs">Boško Antonín</text><text x="1626.0" y="2331.5" font-size="60.0" fill="#000" text-anchor="middle" textLength="514.0" lengthAdjust="spacingAndGlyphs">U Růženky Pšánky</text><text x="2157.8" y="2331.5" font-size="60.0" fill="#000" text-anchor="middle" textLength="35.3" lengthAdjust="spacingAndGlyphs">1</text><text x="2433.2" y="2331.5" font-size="60.0" fill="#000" text-anchor="middle" textLength="70.7" lengthAdjust="spacingAndGlyphs">90</text><text x="2709.0" y="2331.5" font-size="60.0" fill="#000" text-anchor="middle" textLength="35.3" lengthAdjust="spacingAndGlyphs">0</text><text x="2984.8" y="2331.5" font-size="60.0" fill="#000" text-anchor="middle" textLength="35.3" lengthAdjust="spacingAndGlyphs">0</text><text x="3260.2" y="2331.5" font-size="60.0" fill="#000" text-anchor="middle" textLength="35.3" lengthAdjust="spacingAndGlyphs">0</text><text x="3536.0" y="2331.5" font-size="60.0" fill="#000" text-anchor="middle" textLength="35.3" lengthAdjust="spacingAndGlyphs">0</text><text x="3811.5" y="2331.5" font-size="60.0" fill="#000" text-anchor="middle" textLength="35.3" lengthAdjust="spacingAndGlyphs">0</text><text x="4087.0" y="2331.5" font-size="60.0" fill="#000" text-anchor="middle" textLength="35.3" lengthAdjust="spacingAndGlyphs">0</text><text x="4404.0" y="2333.8" font-size="66.7" font-weight="bold" fill="#e60000" text-anchor="middle" textLength="87.2" lengthAdjust="spacingAndGlyphs">90</text><text x="275.0" y="2457.5" font-size="48.4" fill="#14213d" text-anchor="middle" textLength="211.8" lengthAdjust="spacingAndGlyphs">560-573.</text><text x="838.5" y="2461.8" font-size="60.0" fill="#000" text-anchor="middle" textLength="245.9" lengthAdjust="spacingAndGlyphs">Ševc Ján</text><text x="1626.0" y="2461.8" font-size="60.0" fill="#000" text-anchor="middle" textLength="251.3" lengthAdjust="spacingAndGlyphs">Chotětov</text><text x="2157.8" y="2461.8" font-size="60.0" fill="#000" text-anchor="middle" textLength="35.3" lengthAdjust="spacingAndGlyphs">1</text><text x="2433.2" y="2461.8" font-size="60.0" fill="#000" text-anchor="middle" textLength="70.7" lengthAdjust="spacingAndGlyphs">90</text><text x="2709.0" y="2461.8" font-size="60.0" fill="#000" text-anchor="middle" textLength="35.3" lengthAdjust="spacingAndGlyphs">0</text><text x="2984.8" y="2461.8" font-size="60.0" fill="#000" text-anchor="middle" textLength="35.3" lengthAdjust="spacingAndGlyphs">0</text><text x="3260.2" y="2461.8" font-size="60.0" fill="#000" text-anchor="middle" textLength="35.3" lengthAdjust="spacingAndGlyphs">0</text><text x="3536.0" y="2461.8" font-size="60.0" fill="#000" text-anchor="middle" textLength="35.3" lengthAdjust="spacingAndGlyphs">0</text><text x="3811.5" y="2461.8" font-size="60.0" fill="#000" text-anchor="middle" textLength="35.3" lengthAdjust="spacingAndGlyphs">0</text><text x="4087.0" y="2461.8" font-size="60.0" fill="#000" text-anchor="middle" textLength="35.3" lengthAdjust="spacingAndGlyphs">0</text><text x="4404.0" y="2464.1" font-size="66.7" font-weight="bold" fill="#e60000" text-anchor="middle" textLength="87.2" lengthAdjust="spacingAndGlyphs">90</text><text x="275.0" y="2587.8" font-size="48.4" fill="#14213d" text-anchor="middle" textLength="211.8" lengthAdjust="spacingAndGlyphs">560-573.</text><text x="838.5" y="2592.1" font-size="60.0" fill="#000" text-anchor="middle" textLength="340.1" lengthAdjust="spacingAndGlyphs">Veit ml. Eda</text><text x="1626.0" y="2592.1" font-size="60.0" fill="#000" text-anchor="middle" textLength="481.6" lengthAdjust="spacingAndGlyphs">Růžovka Jaroměř</text><text x="2157.8" y="2592.1" font-size="60.0" fill="#000" text-anchor="middle" textLength="35.3" lengthAdjust="spacingAndGlyphs">1</text><text x="2433.2" y="2592.1" font-size="60.0" fill="#000" text-anchor="middle" textLength="70.7" lengthAdjust="spacingAndGlyphs">90</text><text x="2709.0" y="2592.1" font-size="60.0" fill="#000" text-anchor="middle" textLength="35.3" lengthAdjust="spacingAndGlyphs">0</text><text x="2984.8" y="2592.1" font-size="60.0" fill="#000" text-anchor="middle" textLength="35.3" lengthAdjust="spacingAndGlyphs">0</text><text x="3260.2" y="2592.1" font-size="60.0" fill="#000" text-anchor="middle" textLength="35.3" lengthAdjust="spacingAndGlyphs">0</text><text x="3536.0" y="2592.1" font-size="60.0" fill="#000" text-anchor="middle" textLength="35.3" lengthAdjust="spacingAndGlyphs">0</text><text x="3811.5" y="2592.1" font-size="60.0" fill="#000" text-anchor="middle" textLength="35.3" lengthAdjust="spacingAndGlyphs">0</text><text x="4087.0" y="2592.1" font-size="60.0" fill="#000" text-anchor="middle" textLength="35.3" lengthAdjust="spacingAndGlyphs">0</text><text x="4404.0" y="2594.4" font-size="66.7" font-weight="bold" fill="#e60000" text-anchor="middle" textLength="87.2" lengthAdjust="spacingAndGlyphs">90</text><text x="275.0" y="2718.1" font-size="48.4" fill="#14213d" text-anchor="middle" textLength="211.8" lengthAdjust="spacingAndGlyphs">560-573.</text><text x="838.5" y="2722.4" font-size="60.0" fill="#000" text-anchor="middle" textLength="342.8" lengthAdjust="spacingAndGlyphs">Petro Martin</text><text x="1626.0" y="2722.4" font-size="60.0" fill="#000" text-anchor="middle" textLength="514.0" lengthAdjust="spacingAndGlyphs">U Růženky Pšánky</text><text x="2157.8" y="2722.4" font-size="60.0" fill="#000" text-anchor="middle" textLength="35.3" lengthAdjust="spacingAndGlyphs">1</text><text x="2433.2" y="2722.4" font-size="60.0" fill="#000" text-anchor="middle" textLength="70.7" lengthAdjust="spacingAndGlyphs">90</text><text x="2709.0" y="2722.4" font-size="60.0" fill="#000" text-anchor="middle" textLength="35.3" lengthAdjust="spacingAndGlyphs">0</text><text x="2984.8" y="2722.4" font-size="60.0" fill="#000" text-anchor="middle" textLength="35.3" lengthAdjust="spacingAndGlyphs">0</text><text x="3260.2" y="2722.4" font-size="60.0" fill="#000" text-anchor="middle" textLength="35.3" lengthAdjust="spacingAndGlyphs">0</text><text x="3536.0" y="2722.4" font-size="60.0" fill="#000" text-anchor="middle" textLength="35.3" lengthAdjust="spacingAndGlyphs">0</text><text x="3811.5" y="2722.4" font-size="60.0" fill="#000" text-anchor="middle" textLength="35.3" lengthAdjust="spacingAndGlyphs">0</text><text x="4087.0" y="2722.4" font-size="60.0" fill="#000" text-anchor="middle" textLength="35.3" lengthAdjust="spacingAndGlyphs">0</text><text x="4404.0" y="2724.7" font-size="66.7" font-weight="bold" fill="#e60000" text-anchor="middle" textLength="87.2" lengthAdjust="spacingAndGlyphs">90</text><text x="275.0" y="2848.4" font-size="48.4" fill="#14213d" text-anchor="middle" textLength="211.8" lengthAdjust="spacingAndGlyphs">560-573.</text><text x="838.5" y="2852.7" font-size="60.0" fill="#000" text-anchor="middle" textLength="363.8" lengthAdjust="spacingAndGlyphs">Smola Marek</text><text x="1626.0" y="2852.7" font-size="60.0" fill="#000" text-anchor="middle" textLength="388.6" lengthAdjust="spacingAndGlyphs">U Pilnáčka HK</text><text x="2157.8" y="2852.7" font-size="60.0" fill="#000" text-anchor="middle" textLength="35.3" lengthAdjust="spacingAndGlyphs">1</text><text x="2433.2" y="2852.7" font-size="60.0" fill="#000" text-anchor="middle" textLength="70.7" lengthAdjust="spacingAndGlyphs">90</text><text x="2709.0" y="2852.7" font-size="60.0" fill="#000" text-anchor="middle" textLength="35.3" lengthAdjust="spacingAndGlyphs">0</text><text x="2984.8" y="2852.7" font-size="60.0" fill="#000" text-anchor="middle" textLength="35.3" lengthAdjust="spacingAndGlyphs">0</text><text x="3260.2" y="2852.7" font-size="60.0" fill="#000" text-anchor="middle" textLength="35.3" lengthAdjust="spacingAndGlyphs">0</text><text x="3536.0" y="2852.7" font-size="60.0" fill="#000" text-anchor="middle" textLength="35.3" lengthAdjust="spacingAndGlyphs">0</text><text x="3811.5" y="2852.7" font-size="60.0" fill="#000" text-anchor="middle" textLength="35.3" lengthAdjust="spacingAndGlyphs">0</text><text x="4087.0" y="2852.7" font-size="60.0" fill="#000" text-anchor="middle" textLength="35.3" lengthAdjust="spacingAndGlyphs">0</text><text x="4404.0" y="2855.0" font-size="66.7" font-weight="bold" fill="#e60000" text-anchor="middle" textLength="87.2" lengthAdjust="spacingAndGlyphs">90</text></g>
</svg></body></html>
